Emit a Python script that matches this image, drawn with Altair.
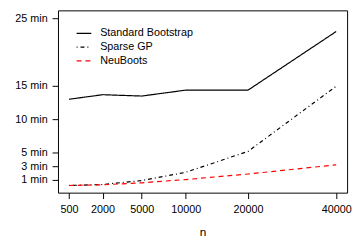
import altair as alt
import pandas as pd

n_values = [500, 2000, 5000, 10000, 20000, 40000]
standard_bootstrap = [12.96, 13.64, 13.44, 14.32, 14.32, 23.05]
sparse_gp = [0.12, 0.27, 0.85, 2.08, 5.2, 14.9]
neuboots = [0.12, 0.22, 0.52, 1.0, 1.83, 3.2]
series_names = ["Standard Bootstrap", "Sparse GP", "NeuBoots"]
y_ticks = [1, 3, 5, 10, 15, 25]

rows = []
for name, vals in zip(series_names, [standard_bootstrap, sparse_gp, neuboots]):
    for n, v in zip(n_values, vals):
        rows.append({"n": n, "minutes": v, "method": name})
df = pd.DataFrame(rows)

FONT = "Liberation Sans"

legend_opts = dict(title=None, orient="none", legendX=18, legendY=15,
                   symbolType="stroke", symbolSize=225, symbolStrokeWidth=1.2,
                   labelFont=FONT, labelFontSize=11, labelColor="black",
                   labelOffset=8, rowPadding=0, padding=0)

chart = alt.Chart(df).mark_line(strokeWidth=1.2).encode(
    x=alt.X("n:Q", title="n",
            scale=alt.Scale(type="sqrt", domain=[227, 42960], zero=False, nice=False),
            axis=alt.Axis(values=n_values, format="d", grid=False, domain=False,
                          tickSize=6, tickColor="black", labelColor="black",
                          labelFont=FONT, labelFontSize=11, labelPadding=5,
                          titleFont=FONT, titleFontSize=12, titleFontWeight="normal",
                          titleColor="black", titlePadding=13, labelFlush=False)),
    y=alt.Y("minutes:Q", title="",
            scale=alt.Scale(domain=[-0.95, 26.2], zero=False, nice=False),
            axis=alt.Axis(values=y_ticks, labelExpr="datum.value + ' min'", grid=False,
                          domain=False, tickSize=6, tickColor="black", labelColor="black",
                          labelFont=FONT, labelFontSize=11, labelPadding=5)),
    color=alt.Color("method:N", sort=series_names,
                    scale=alt.Scale(domain=series_names, range=["black", "black", "red"]),
                    legend=alt.Legend(**legend_opts)),
    strokeDash=alt.StrokeDash("method:N", sort=series_names,
                              scale=alt.Scale(domain=series_names,
                                              range=[[1, 0], [1, 3, 4, 3], [5, 4]]),
                              legend=alt.Legend(**legend_opts)),
).properties(
    width=295, height=186,
    autosize=alt.AutoSizeParams(type="none"),
    padding={"left": 51, "top": 0, "right": 5, "bottom": 52},
).configure_view(
    stroke="black", strokeWidth=1
)

chart.save("out.html", embed_options={"renderer": "svg", "actions": False})
